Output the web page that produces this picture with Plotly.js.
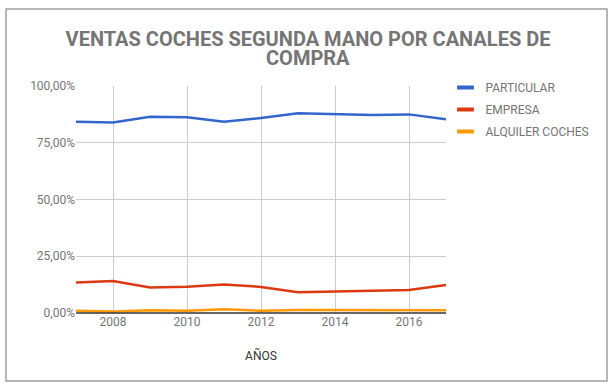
<!DOCTYPE html>
<html>
<head>
<meta charset="utf-8">
<script src="https://cdn.plot.ly/plotly-3.0.1.min.js"></script>
<style>
html,body{margin:0;padding:0;background:#fff;}
#chart{width:616px;height:390px;}
</style>
</head>
<body>
<div id="chart"></div>
<script>
const years = [2007, 2008, 2009, 2010, 2011, 2012, 2013, 2014, 2015, 2016, 2017];
const particular = [0.843, 0.839, 0.865, 0.862, 0.843, 0.859, 0.880, 0.877, 0.872, 0.875, 0.853];
const empresa = [0.134, 0.141, 0.112, 0.116, 0.126, 0.115, 0.091, 0.094, 0.100, 0.101, 0.123];
const alquiler = [0.010, 0.007, 0.012, 0.010, 0.016, 0.010, 0.013, 0.013, 0.012, 0.010, 0.012];
const seriesNames = ['PARTICULAR', 'EMPRESA', 'ALQUILER COCHES'];
const seriesColors = ['#3366cc', '#dc3912', '#ff9900'];
const seriesValues = [particular, empresa, alquiler];
const titleLines = ['VENTAS COCHES SEGUNDA MANO POR CANALES DE', 'COMPRA'];

const traces = [];
seriesValues.forEach((vals, i) => {
  traces.push({
    x: years, y: vals, type: 'scatter', mode: 'lines',
    line: {color: seriesColors[i], width: 2.5},
    showlegend: false, hoverinfo: 'skip'
  });
});
seriesNames.forEach((name, i) => {
  traces.push({
    x: [null], y: [null], type: 'scatter', mode: 'markers', name: name,
    legendgroup: 'g' + i,
    marker: {symbol: 'line-ew', size: 12, color: seriesColors[i], line: {width: 4, color: seriesColors[i]}}
  });
});

const W = 616, H = 390, L = 76, R = 170, T = 86, B = 77;
const pw = W - L - R, ph = H - T - B;
function px(x){ return (x - L) / pw; }
function py(y){ return (H - B - y) / ph; }
const titleFont = {family: 'Roboto, sans-serif', size: 20, color: '#757575', weight: 'bold'};

const layout = {
  width: W, height: H,
  margin: {l: L, r: R, t: T, b: B, pad: 0},
  paper_bgcolor: '#fff', plot_bgcolor: '#fff',
  separators: ',.',
  font: {family: 'Roboto, sans-serif', size: 12, color: '#757575'},
  title: {
    text: titleLines[0],
    font: titleFont,
    x: 0.5, xref: 'container', xanchor: 'center',
    y: 1 - 38.5 / H, yanchor: 'middle'
  },
  annotations: [
    {text: titleLines[1], font: titleFont, showarrow: false,
     xref: 'paper', yref: 'paper', x: px(308), y: py(58), xanchor: 'center', yanchor: 'middle'}
  ],
  xaxis: {
    range: [2007, 2017], tick0: 2008, dtick: 2,
    showgrid: true, gridcolor: '#cccccc', gridwidth: 1,
    zeroline: false, showline: false, ticks: '',
    tickfont: {size: 12, color: '#757575'},
    title: {text: 'AÑOS', font: {size: 12, color: '#333333'}, standoff: 23}
  },
  yaxis: {
    range: [0, 1], tick0: 0, dtick: 0.25, tickformat: '.2%',
    showgrid: true, gridcolor: '#cccccc', gridwidth: 1,
    zeroline: false, showline: false, ticks: '', ticklen: 0,
    tickfont: {size: 12, color: '#757575'}
  },
  legend: {
    x: px(445.5), xanchor: 'left', y: py(73), yanchor: 'top',
    font: {size: 12, color: '#757575'},
    tracegroupgap: 3, itemwidth: 30,
    bgcolor: 'rgba(0,0,0,0)'
  },
  shapes: [
    {type: 'line', xref: 'paper', yref: 'paper', x0: 0, x1: 1, y0: 0, y1: 0,
     line: {color: '#333333', width: 1.5}},
    {type: 'rect', xref: 'paper', yref: 'paper', x0: px(6), x1: px(607), y0: py(381), y1: py(9),
     line: {color: '#9e9e9e', width: 1.5}, fillcolor: 'rgba(0,0,0,0)', layer: 'below'}
  ]
};

Plotly.newPlot('chart', traces, layout, {displayModeBar: false, staticPlot: true});
</script>
</body>
</html>
